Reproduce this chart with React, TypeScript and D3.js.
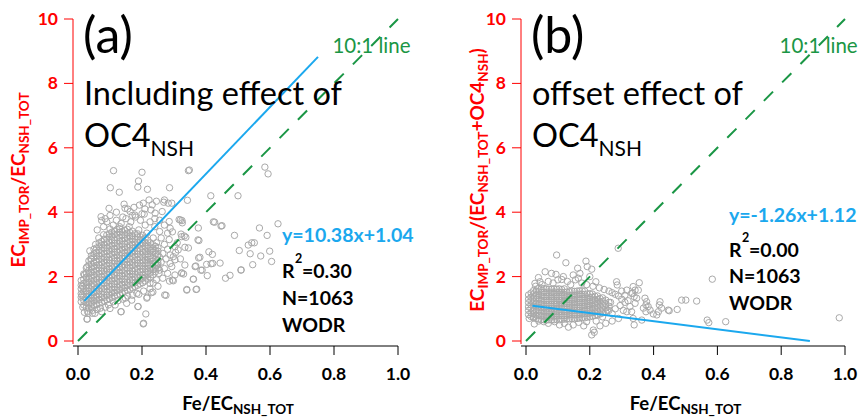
import React from "react";
import * as d3 from "d3";

const xTicks = [0, 0.2, 0.4, 0.6, 0.8, 1.0];
const yTicks = [0, 2, 4, 6, 8, 10];

// Panel (a): dense core read as columns [x, ys]
const coreA: [number, number[]][] = [
  [0.010, [1.22, 1.36, 1.47, 1.62, 1.73, 1.88]],
  [0.018, [1.12, 1.26, 1.38, 1.53, 1.64, 1.79, 1.92, 2.08]],
  [0.026, [1.05, 1.19, 1.30, 1.45, 1.56, 1.71, 1.83, 1.98, 2.11, 2.27]],
  [0.034, [1.02, 1.15, 1.27, 1.40, 1.54, 1.66, 1.81, 1.93, 2.08, 2.20, 2.36, 2.49]],
  [0.042, [1.06, 1.18, 1.32, 1.44, 1.59, 1.71, 1.86, 1.98, 2.13, 2.27, 2.39, 2.55, 2.65]],
  [0.050, [1.10, 1.24, 1.35, 1.50, 1.61, 1.77, 1.89, 2.04, 2.16, 2.31, 2.43, 2.59, 2.71]],
  [0.058, [1.13, 1.27, 1.39, 1.54, 1.66, 1.81, 1.93, 2.08, 2.20, 2.35, 2.47, 2.63, 2.75, 2.89]],
  [0.066, [1.17, 1.29, 1.44, 1.56, 1.71, 1.83, 1.98, 2.10, 2.26, 2.37, 2.53, 2.65, 2.81, 2.93, 3.05]],
  [0.074, [1.20, 1.35, 1.46, 1.62, 1.73, 1.89, 2.00, 2.16, 2.27, 2.43, 2.55, 2.71, 2.82, 2.98, 3.09]],
  [0.082, [1.24, 1.36, 1.52, 1.63, 1.79, 1.90, 2.06, 2.18, 2.33, 2.45, 2.60, 2.72, 2.88, 3.00, 3.16]],
  [0.090, [1.28, 1.42, 1.53, 1.69, 1.81, 1.96, 2.08, 2.23, 2.35, 2.51, 2.62, 2.78, 2.90, 3.05, 3.17, 3.29]],
  [0.098, [1.31, 1.43, 1.59, 1.70, 1.86, 1.98, 2.13, 2.25, 2.41, 2.52, 2.68, 2.80, 2.95, 3.07, 3.23, 3.33]],
  [0.106, [1.35, 1.49, 1.61, 1.76, 1.88, 2.03, 2.15, 2.31, 2.42, 2.58, 2.70, 2.85, 2.97, 3.13, 3.25, 3.38]],
  [0.114, [1.39, 1.51, 1.66, 1.78, 1.93, 2.05, 2.21, 2.32, 2.48, 2.59, 2.75, 2.87, 3.03, 3.14, 3.30, 3.41]],
  [0.122, [1.43, 1.57, 1.68, 1.84, 1.95, 2.11, 2.22, 2.38, 2.50, 2.65, 2.77, 2.93, 3.04, 3.20, 3.32, 3.46]],
  [0.130, [1.46, 1.59, 1.74, 1.86, 2.01, 2.13, 2.28, 2.40, 2.56, 2.67, 2.83, 2.95, 3.10, 3.22, 3.38, 3.49]],
  [0.138, [1.50, 1.64, 1.76, 1.91, 2.03, 2.18, 2.30, 2.46, 2.57, 2.73, 2.85, 3.00, 3.12, 3.28, 3.40]],
  [0.146, [1.54, 1.66, 1.82, 1.93, 2.09, 2.20, 2.36, 2.47, 2.63, 2.75, 2.90, 3.02, 3.18, 3.30, 3.44]],
  [0.154, [1.58, 1.72, 1.83, 1.99, 2.10, 2.26, 2.38, 2.53, 2.65, 2.80, 2.92, 3.08, 3.20, 3.35, 3.47]],
  [0.162, [1.61, 1.74, 1.89, 2.01, 2.16, 2.28, 2.43, 2.55, 2.71, 2.82, 2.98, 3.10, 3.25, 3.37]],
  [0.170, [1.65, 1.80, 1.91, 2.07, 2.18, 2.34, 2.45, 2.61, 2.73, 2.88, 3.00, 3.15, 3.27, 3.41]],
  [0.178, [1.69, 1.81, 1.97, 2.08, 2.24, 2.36, 2.51, 2.63, 2.78, 2.90, 3.06, 3.17, 3.33]],
  [0.186, [1.73, 1.87, 1.99, 2.14, 2.26, 2.41, 2.53, 2.69, 2.80, 2.96, 3.07, 3.23, 3.33]],
  [0.194, [1.77, 1.89, 2.04, 2.16, 2.32, 2.43, 2.59, 2.70, 2.86, 2.98, 3.13, 3.24]],
  [0.202, [1.81, 1.95, 2.06, 2.22, 2.34, 2.49, 2.61, 2.76, 2.88, 3.03, 3.15, 3.28]],
  [0.210, [1.86, 1.98, 2.13, 2.25, 2.40, 2.52, 2.67, 2.79, 2.94, 3.06, 3.20]],
  [0.218, [1.92, 2.06, 2.17, 2.33, 2.44, 2.60, 2.71, 2.87, 2.98, 3.13]],
  [0.226, [1.99, 2.11, 2.26, 2.38, 2.53, 2.65, 2.80, 2.92, 3.05]],
  [0.234, [2.06, 2.21, 2.32, 2.48, 2.59, 2.75, 2.86, 2.99]],
  [0.242, [2.15, 2.27, 2.43, 2.54, 2.70, 2.81, 2.94]],
  [0.250, [2.26, 2.41, 2.52, 2.68, 2.79]],
];

// Panel (a): scattered points around the core
const fringeA: [number, number][] = [
  [0.111, 5.29], [0.200, 5.24], [0.345, 5.29], [0.348, 5.31], [0.584, 5.40], [0.594, 5.19],
  [0.189, 4.97], [0.101, 4.76], [0.129, 4.62], [0.187, 4.78], [0.217, 4.71], [0.286, 4.76],
  [0.415, 4.51], [0.500, 4.51], [0.342, 4.37], [0.625, 3.64], [0.423, 3.70], [0.427, 3.69],
  [0.447, 3.57], [0.450, 3.58], [0.567, 3.51], [0.489, 3.28], [0.591, 3.28], [0.532, 2.98],
  [0.551, 3.05], [0.543, 3.05], [0.504, 2.81], [0.538, 2.71], [0.599, 2.79], [0.571, 2.64],
  [0.444, 2.42], [0.416, 2.40], [0.402, 2.38], [0.421, 2.41], [0.510, 2.21], [0.546, 2.37],
  [0.605, 2.47], [0.475, 2.04], [0.461, 1.95], [0.404, 2.03], [0.361, 1.92], [0.340, 1.60],
  [0.369, 1.60], [0.377, 2.58], [0.381, 2.60], [0.375, 3.14], [0.378, 3.12], [0.376, 3.51],
  [0.324, 3.24], [0.334, 2.91], [0.332, 3.26], [0.316, 3.77], [0.325, 3.74], [0.293, 2.31],
  [0.295, 1.89], [0.286, 1.86], [0.324, 2.12], [0.330, 2.08], [0.187, 1.07], [0.212, 0.84],
  [0.205, 0.55], [0.135, 0.91], [0.028, 0.68], [0.020, 0.89], [0.045, 0.86], [0.275, 1.42],
  [0.234, 1.52], [0.216, 1.36], [0.148, 1.33], [0.184, 1.48], [0.409, 2.77], [0.420, 2.69],
  [0.368, 2.33], [0.388, 2.20], [0.509, 2.20],
  [0.144, 4.25], [0.147, 4.12], [0.097, 4.12], [0.192, 4.22], [0.204, 4.28], [0.222, 4.38],
  [0.232, 4.23], [0.245, 4.34], [0.209, 4.10], [0.228, 4.07], [0.268, 4.31], [0.282, 4.28],
  [0.293, 4.28], [0.270, 4.38], [0.163, 4.02], [0.178, 3.91], [0.207, 3.94], [0.241, 3.97],
  [0.263, 4.02], [0.072, 3.86], [0.074, 3.74], [0.285, 3.71], [0.320, 3.76], [0.326, 3.67],
  [0.288, 3.50], [0.295, 3.39], [0.322, 3.32], [0.337, 3.22], [0.345, 2.89], [0.037, 2.80],
  [0.303, 2.93], [0.313, 2.83], [0.288, 2.67], [0.298, 2.62],
  [0.303, 2.52], [0.288, 2.41], [0.334, 2.36], [0.366, 2.31], [0.384, 2.20], [0.324, 2.10],
  [0.303, 2.05], [0.298, 1.87], [0.360, 1.92], [0.340, 1.58], [0.371, 1.61], [0.271, 1.43],
  [0.229, 1.50], [0.215, 1.33], [0.188, 1.07], [0.204, 0.53], [0.134, 0.91], [0.225, 1.79],
  [0.249, 2.36], [0.253, 2.10], [0.053, 0.86], [0.074, 0.91], [0.032, 0.86], [0.029, 0.68],
  [0.100, 1.01], [0.116, 1.12], [0.152, 1.17], [0.168, 1.27],
  [0.060, 3.45], [0.080, 3.55], [0.090, 3.70], [0.110, 3.60], [0.120, 3.75], [0.135, 3.65],
  [0.150, 3.80], [0.165, 3.70], [0.180, 3.85], [0.195, 3.75], [0.210, 3.60], [0.225, 3.70],
  [0.240, 3.55], [0.255, 3.40], [0.260, 3.20], [0.270, 3.00], [0.250, 2.90], [0.265, 2.72],
  [0.275, 2.55], [0.260, 2.45], [0.255, 2.20], [0.270, 2.25], [0.280, 2.10], [0.265, 1.95],
  [0.245, 1.90], [0.235, 1.80], [0.250, 1.70], [0.225, 1.62], [0.205, 1.55], [0.190, 1.45],
  [0.170, 1.42], [0.155, 1.40], [0.140, 1.30], [0.125, 1.25], [0.110, 1.22], [0.095, 1.12],
  [0.085, 1.05], [0.070, 1.02], [0.060, 0.98], [0.045, 0.95], [0.030, 0.92], [0.015, 1.05],
  [0.012, 1.42], [0.014, 1.70], [0.020, 2.05], [0.028, 2.30], [0.040, 2.55], [0.050, 2.85],
  [0.055, 3.00], [0.065, 3.20], [0.080, 3.30], [0.100, 3.48], [0.130, 3.55], [0.160, 3.55],
  [0.190, 3.45], [0.215, 3.35], [0.235, 3.20], [0.245, 3.05], [0.255, 2.60], [0.245, 2.35],
  [0.240, 3.80], [0.200, 3.95], [0.170, 3.90], [0.140, 3.85], [0.120, 4.00], [0.100, 3.90],
  [0.085, 3.80], [0.155, 4.10], [0.175, 4.15], [0.255, 3.75], [0.270, 3.60], [0.280, 3.35],
  [0.285, 3.15], [0.310, 3.05], [0.305, 2.75], [0.320, 2.55], [0.280, 2.85],
];

// Panel (b): dense core columns
const coreB: [number, number[]][] = [
  [0.008, [0.82, 0.95, 1.06, 1.19, 1.30, 1.43]],
  [0.016, [0.76, 0.87, 1.01, 1.12, 1.25, 1.36, 1.49]],
  [0.024, [0.72, 0.85, 0.96, 1.09, 1.22, 1.33, 1.46, 1.57]],
  [0.032, [0.70, 0.81, 0.94, 1.07, 1.18, 1.31, 1.42, 1.55]],
  [0.040, [0.68, 0.80, 0.93, 1.04, 1.17, 1.29, 1.41, 1.53, 1.63]],
  [0.048, [0.66, 0.79, 0.90, 1.03, 1.15, 1.27, 1.40, 1.51, 1.62]],
  [0.056, [0.66, 0.77, 0.90, 1.02, 1.14, 1.26, 1.38, 1.51, 1.63]],
  [0.064, [0.65, 0.78, 0.89, 1.02, 1.13, 1.26, 1.38, 1.50, 1.62]],
  [0.072, [0.66, 0.77, 0.90, 1.01, 1.14, 1.25, 1.38, 1.49, 1.61]],
  [0.080, [0.65, 0.78, 0.89, 1.02, 1.13, 1.26, 1.37, 1.50, 1.61]],
  [0.088, [0.66, 0.78, 0.90, 1.01, 1.14, 1.25, 1.37, 1.49, 1.62]],
  [0.096, [0.67, 0.78, 0.91, 1.02, 1.15, 1.26, 1.39, 1.50, 1.61]],
  [0.104, [0.66, 0.79, 0.90, 1.03, 1.14, 1.27, 1.38, 1.51, 1.62]],
  [0.112, [0.67, 0.79, 0.91, 1.02, 1.15, 1.26, 1.38, 1.50, 1.60]],
  [0.120, [0.68, 0.79, 0.92, 1.03, 1.16, 1.27, 1.40, 1.51, 1.62]],
  [0.128, [0.68, 0.80, 0.92, 1.04, 1.16, 1.28, 1.40, 1.52]],
  [0.136, [0.69, 0.81, 0.93, 1.05, 1.17, 1.29, 1.41, 1.53]],
  [0.144, [0.70, 0.82, 0.94, 1.06, 1.18, 1.30, 1.42, 1.55]],
  [0.152, [0.69, 0.81, 0.94, 1.05, 1.18, 1.29, 1.42, 1.54]],
  [0.160, [0.70, 0.82, 0.95, 1.06, 1.19, 1.31, 1.43, 1.55]],
  [0.168, [0.71, 0.83, 0.95, 1.07, 1.19, 1.31, 1.44, 1.56]],
  [0.176, [0.72, 0.84, 0.96, 1.08, 1.20, 1.32, 1.45, 1.56]],
  [0.184, [0.72, 0.85, 0.96, 1.09, 1.20, 1.33, 1.44, 1.55]],
  [0.192, [0.74, 0.85, 0.98, 1.09, 1.22, 1.33, 1.46]],
  [0.200, [0.75, 0.87, 0.99, 1.11, 1.23, 1.35, 1.47]],
  [0.208, [0.77, 0.88, 1.01, 1.12, 1.25, 1.36, 1.46]],
  [0.216, [0.79, 0.91, 1.03, 1.15, 1.27, 1.39]],
  [0.224, [0.81, 0.93, 1.05, 1.17, 1.29, 1.40]],
  [0.232, [0.84, 0.96, 1.08, 1.20, 1.32]],
  [0.240, [0.87, 0.99, 1.11, 1.23, 1.34]],
  [0.250, [0.91, 1.03, 1.15, 1.27]],
  [0.260, [0.95, 1.08, 1.20]],
];

// Panel (b): scattered points
const fringeB: [number, number][] = [
  [0.289, 2.88], [0.096, 2.67], [0.125, 2.43], [0.188, 2.48], [0.192, 2.31], [0.162, 2.26],
  [0.206, 2.23], [0.039, 1.97], [0.060, 2.15], [0.080, 2.10], [0.094, 2.07], [0.117, 2.00],
  [0.112, 1.91], [0.148, 2.05], [0.164, 1.95], [0.169, 2.10], [0.200, 2.00], [0.219, 1.84],
  [0.028, 1.79], [0.044, 1.84], [0.284, 1.84], [0.286, 1.74], [0.316, 1.58], [0.331, 1.48],
  [0.347, 1.33], [0.342, 1.17], [0.326, 1.07], [0.316, 0.91], [0.352, 1.58], [0.355, 1.81],
  [0.336, 1.69], [0.342, 1.58], [0.334, 1.48], [0.339, 1.38], [0.584, 1.92], [0.488, 1.27],
  [0.501, 1.27], [0.535, 1.24], [0.474, 0.98], [0.446, 0.96], [0.449, 0.94], [0.420, 1.22],
  [0.418, 1.12], [0.425, 1.02], [0.415, 0.91], [0.410, 0.81], [0.399, 0.84], [0.373, 1.33],
  [0.378, 1.22], [0.376, 1.12], [0.383, 1.07], [0.389, 0.96], [0.368, 1.02], [0.376, 0.91],
  [0.568, 0.65], [0.573, 0.57], [0.626, 0.60], [0.982, 0.72], [0.331, 0.91], [0.336, 0.70],
  [0.339, 0.50], [0.363, 0.65], [0.056, 0.60], [0.023, 0.75], [0.133, 0.43], [0.148, 0.50],
  [0.206, 0.19], [0.211, 0.34], [0.214, 0.27], [0.232, 0.47], [0.181, 0.47], [0.026, 0.53],
  [0.030, 1.70], [0.050, 1.75], [0.070, 1.85], [0.085, 1.80], [0.100, 1.90], [0.130, 1.85],
  [0.140, 1.75], [0.155, 1.90], [0.175, 1.80], [0.190, 1.75], [0.210, 1.70], [0.230, 1.65],
  [0.245, 1.60], [0.260, 1.55], [0.270, 1.50], [0.280, 1.45], [0.290, 1.40], [0.300, 1.30],
  [0.310, 1.20], [0.295, 1.10], [0.280, 1.00], [0.270, 0.85], [0.290, 0.70], [0.305, 0.95],
  [0.320, 1.25], [0.300, 1.55], [0.310, 1.42], [0.265, 1.20], [0.255, 0.95], [0.240, 0.75],
  [0.220, 0.62], [0.190, 0.60], [0.165, 0.58], [0.120, 0.55], [0.090, 0.60], [0.070, 0.55],
  [0.040, 0.62], [0.010, 0.70], [0.105, 0.50], [0.250, 0.55], [0.270, 0.62],
];

const fitA = [10.38, 1.04];
const fitAX = [0.02, 0.75];
const fitB = [-1.26, 1.12];
const fitBX = [0.02, 0.89];

const FONT = "Lato, 'Open Sans', sans-serif";
const RED = "#ff0000";
const BLUE = "#1ba8ee";
const GREEN = "#1a9645";
const GRAY = "#a9a9a9";

type PanelProps = {
  axisX: number;
  x0: number;
  x1: number;
  core: [number, number[]][];
  fringe: [number, number][];
  fit: number[];
  fitX: number[];
  letter: string;
  line1: string;
  eq: string;
  eqY: number;
  r2: string;
  statX: number;
  r2Y: number;
  nY: number;
  wY: number;
  yTitle: React.ReactNode;
  yTitleX: number;
};

function Panel(p: PanelProps) {
  const x = d3.scaleLinear().domain([0, 1]).range([p.x0, p.x1]);
  const y = d3.scaleLinear().domain([0, 10]).range([341, 19]);
  const pts: [number, number][] = [];
  p.core.forEach(([cx, ys]) => ys.forEach((v) => pts.push([cx, v])));
  p.fringe.forEach((d) => pts.push(d));
  const line = d3.line<number>().x((d) => x(d)).y((d) => y(p.fit[0] * d + p.fit[1]));
  const left = p.x0 + 6;
  return (
    <g fontFamily={FONT}>
      {pts.map((d, i) => (
        <circle key={i} cx={x(d[0])} cy={y(d[1])} r={3.2} fill="none" stroke={GRAY} strokeWidth={1} />
      ))}
      <line x1={x(0)} y1={y(0)} x2={x(1)} y2={y(10)} stroke={GREEN} strokeWidth={2} strokeDasharray="13,13" />
      <path d={line(p.fitX) || ""} stroke={BLUE} strokeWidth={2} fill="none" />
      {/* y axis */}
      <line x1={p.axisX} y1={19} x2={p.axisX} y2={344} stroke={RED} strokeWidth={1} />
      {yTicks.map((t) => (
        <g key={t}>
          <line x1={p.axisX - 9} x2={p.axisX} y1={y(t)} y2={y(t)} stroke={RED} />
          <text x={p.axisX - 15} y={y(t) + 6} textAnchor="end" fontSize={17.5} fontWeight="bold" fill={RED}>
            {t}
          </text>
        </g>
      ))}
      {/* x axis */}
      <line x1={p.axisX} y1={346} x2={p.x1} y2={346} stroke="#000" strokeWidth={1} />
      {xTicks.map((t) => (
        <g key={t}>
          <line x1={x(t)} x2={x(t)} y1={346} y2={355} stroke="#000" />
          <text x={x(t)} y={380} textAnchor="middle" fontSize={17.5} fontWeight="bold" fill="#000">
            {t.toFixed(1)}
          </text>
        </g>
      ))}
      <text x={(p.x0 + p.x1) / 2} y={410} textAnchor="middle" fontSize={18.5} fontWeight="bold" fill="#000">
        Fe/EC<tspan fontSize={13.5} dy={4}>NSH_TOT</tspan>
      </text>
      <text transform={`translate(${p.yTitleX},180) rotate(-90)`} textAnchor="middle" fontSize={19} fontWeight="bold" fill={RED}>
        {p.yTitle}
      </text>
      {/* annotations */}
      <text x={left - 1} y={53} fontSize={50} fill="#000">{p.letter}</text>
      <text x={left} y={105} fontSize={32.5} fill="#000">{p.line1}</text>
      <text x={left} y={147} fontSize={32.5} fill="#000">
        OC4<tspan fontSize={21} dy={9}>NSH</tspan>
      </text>
      <text x={x(0.795)} y={53} fontSize={20.5} fill={GREEN}>10:1 line</text>
      <text x={p.statX} y={p.eqY} fontSize={19.5} fontWeight="bold" fill={BLUE}>{p.eq}</text>
      <text x={p.statX} y={p.r2Y} fontSize={19.5} fontWeight="bold" fill="#000">R</text>
      <text x={p.statX + 13} y={p.r2Y - 15} fontSize={12.5} fontWeight="bold" fill="#000">2</text>
      <text x={p.statX + 20} y={p.r2Y} fontSize={19.5} fontWeight="bold" fill="#000">{p.r2}</text>
      <text x={p.statX} y={p.nY} fontSize={19.5} fontWeight="bold" fill="#000">N=1063</text>
      <text x={p.statX} y={p.wY} fontSize={19.5} fontWeight="bold" fill="#000">WODR</text>
    </g>
  );
}

export default function App() {
  return (
    <svg width={862} height={418} style={{ position: "absolute", left: 0, top: 0, background: "#fff" }}>
      <rect width={862} height={418} fill="#fff" />
      <Panel
        axisX={73}
        x0={78}
        x1={398}
        core={coreA}
        fringe={fringeA}
        fit={fitA}
        fitX={fitAX}
        letter="(a)"
        line1="Including effect of"
        eq="y=10.38x+1.04"
        eqY={242}
        r2="=0.30"
        statX={282}
        r2Y={278}
        nY={305}
        wY={332}
        yTitleX={25}
        yTitle={
          <>
            EC<tspan fontSize={13.5} dy={4}>IMP_TOR</tspan>
            <tspan dy={-4}>/EC</tspan>
            <tspan fontSize={13.5} dy={4}>NSH_TOT</tspan>
          </>
        }
      />
      <Panel
        axisX={521}
        x0={526}
        x1={845}
        core={coreB}
        fringe={fringeB}
        fit={fitB}
        fitX={fitBX}
        letter="(b)"
        line1="offset effect of"
        eq="y=-1.26x+1.12"
        eqY={222}
        r2="=0.00"
        statX={729}
        r2Y={257}
        nY={283}
        wY={310}
        yTitleX={484}
        yTitle={
          <>
            EC<tspan fontSize={13.5} dy={4}>IMP_TOR</tspan>
            <tspan dy={-4}>/(EC</tspan>
            <tspan fontSize={13.5} dy={4}>NSH_TOT</tspan>
            <tspan dy={-4}>+OC4</tspan>
            <tspan fontSize={13.5} dy={4}>NSH</tspan>
            <tspan dy={-4}>)</tspan>
          </>
        }
      />
    </svg>
  );
}
